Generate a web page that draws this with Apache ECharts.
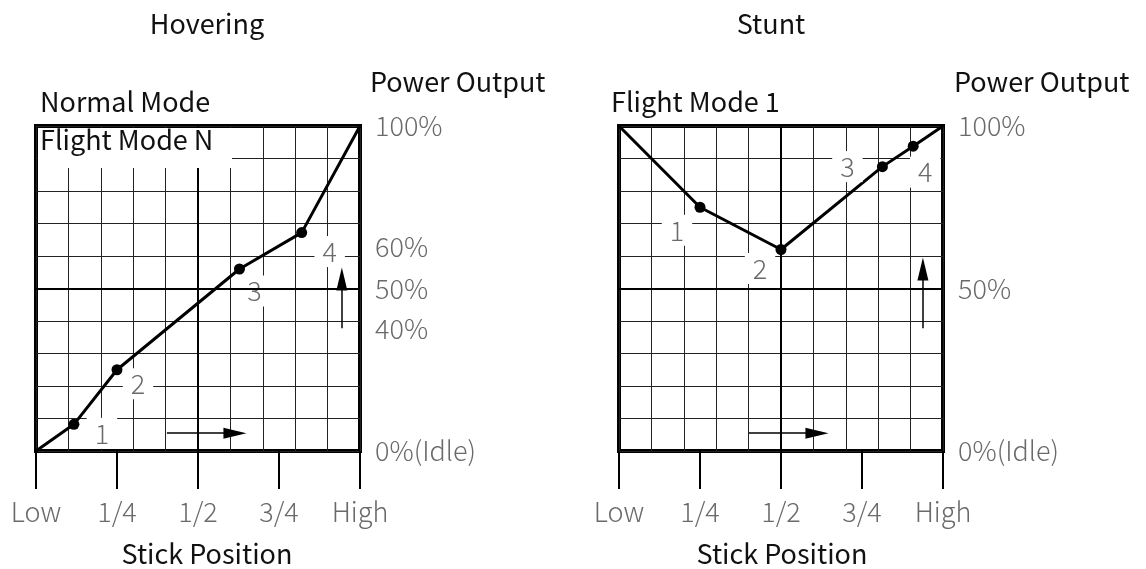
<!DOCTYPE html>
<html>
<head>
<meta charset="utf-8">
<script src="https://cdn.jsdelivr.net/npm/echarts@6/dist/echarts.min.js"></script>
<style>
  html, body { margin: 0; padding: 0; background: #fff; }
  #chart { width: 1146px; height: 569px; }
</style>
</head>
<body>
<div id="chart"></div>
<script>
// Stick position ticks shared by both panels
const stickValues = [0, 25, 50, 75, 100];
const stickTexts = ['Low', '1/4', '1/2', '3/4', 'High'];

// Hovering throttle curve (Normal Mode / Flight Mode N)
const hoverStick = [0, 11.7, 25, 62.8, 82, 100];
const hoverPower = [0, 8.2, 25, 56, 67.2, 100];
const hoverTags = ['', '1', '2', '3', '4', ''];
const hoverPowerTicks = [0, 40, 50, 60, 100];
const hoverPowerTexts = ['0%(Idle)', '40%', '50%', '60%', '100%'];

// Stunt throttle curve (Flight Mode 1)
const stuntStick = [0, 25, 50, 81.3, 90.8, 100];
const stuntPower = [100, 75, 62, 87.5, 93.8, 100];
const stuntTags = ['', '1', '2', '3', '4', ''];
const stuntPowerTicks = [0, 50, 100];
const stuntPowerTexts = ['0%(Idle)', '50%', '100%'];

// Direction arrows (start, head) in stick/power units
const hoverArrows = [[[40.4, 5.5], [61.4, 5.5]], [[94.4, 37.8], [94.4, 52.9]]];
const stuntArrows = [[[40.1, 5.5], [61.1, 5.5]], [[93.8, 37.8], [93.8, 56]]];

// Label placement for the numbered points, in pixels from each point
const hoverTagOffsets = [null, [28, 9], [21, 14], [15, 22], [28, 19], null];
const stuntTagOffsets = [null, [-23, 23], [-21, 19], [-35, 0], [12, 26], null];
// Power labels nudged apart so they do not collide
const hoverTextShift = { 60: 'up', 40: 'dn' };

const FONT = '"Noto Sans CJK JP", "Noto Sans", sans-serif';
const GREY = '#6a6a6a';

function pointData(xs, ys, tags, offsets) {
  return xs.map((x, i) => {
    const item = { value: [x, ys[i]], symbolSize: tags[i] ? 11 : 0 };
    if (tags[i]) {
      item.label = { show: true, formatter: tags[i], position: 'inside', offset: offsets[i] };
    }
    return item;
  });
}

function arrowData(arrows) {
  return arrows.map(a => [
    { coord: a[0], symbol: 'none' },
    { coord: a[1], symbol: 'triangle', symbolSize: [11, 23] }
  ]);
}

function curveSeries(gridIdx, xs, ys, tags, offsets, arrows) {
  return {
    type: 'line',
    xAxisIndex: gridIdx * 2,
    yAxisIndex: gridIdx,
    data: pointData(xs, ys, tags, offsets),
    symbol: 'circle',
    lineStyle: { color: '#000', width: 3 },
    itemStyle: { color: '#000' },
    label: {
      show: false,
      color: GREY,
      fontSize: 27,
      fontFamily: FONT,
      fontWeight: 300,
      backgroundColor: '#fff',
      padding: [2, 8]
    },
    z: 3,
    markLine: {
      silent: true,
      animation: false,
      symbol: ['none', 'none'],
      label: { show: false },
      lineStyle: { color: '#000', width: 2, type: 'solid' },
      data: [{ xAxis: 50 }, { yAxis: 50 }].concat(
        arrowData(arrows).map(pair => {
          pair[0].lineStyle = { width: 1.5, color: '#000', type: 'solid' };
          pair[1].lineStyle = { width: 1.5, color: '#000', type: 'solid' };
          return pair;
        })
      )
    }
  };
}

function gridXAxes(gridIdx) {
  return [
    {
      gridIndex: gridIdx, type: 'value', min: 0, max: 100, interval: 10,
      axisLine: { show: false }, axisTick: { show: false }, axisLabel: { show: false },
      splitLine: { show: true, lineStyle: { color: '#222', width: 1 } }
    },
    {
      gridIndex: gridIdx, type: 'value', min: 0, max: 100, interval: 25, position: 'bottom',
      axisLine: { show: false },
      axisTick: { show: true, inside: false, length: 38, lineStyle: { color: '#000', width: 2 } },
      splitLine: { show: false },
      axisLabel: {
        margin: 47, color: GREY, fontSize: 27, fontFamily: FONT, fontWeight: 300,
        showMinLabel: true, showMaxLabel: true,
        formatter: v => {
          const i = stickValues.indexOf(Math.round(v));
          return i < 0 ? '' : stickTexts[i];
        }
      }
    }
  ];
}

function powerAxis(gridIdx, ticks, texts, shift) {
  return {
    gridIndex: gridIdx, type: 'value', min: 0, max: 100, interval: 10, position: 'right',
    axisLine: { show: false }, axisTick: { show: false },
    splitLine: { show: true, lineStyle: { color: '#222', width: 1 } },
    axisLabel: {
      margin: 15, color: GREY, fontSize: 27, fontFamily: FONT, fontWeight: 300,
      showMinLabel: true, showMaxLabel: true,
      formatter: v => {
        const r = Math.round(v);
        const i = ticks.indexOf(r);
        if (i < 0) return '';
        const s = shift && shift[r];
        return s ? '{' + s + '|' + texts[i] + '}' : texts[i];
      },
      rich: {
        up: { color: GREY, fontSize: 27, fontFamily: FONT, fontWeight: 300, padding: [0, 0, 18, 0] },
        dn: { color: GREY, fontSize: 27, fontFamily: FONT, fontWeight: 300, padding: [16, 0, 0, 0] }
      }
    }
  };
}

function txt(text, x, y, align, extra) {
  return Object.assign({
    type: 'text', x: x, y: y, z: 100,
    style: {
      text: text, fill: '#111', fontSize: 27, fontFamily: FONT,
      align: align, verticalAlign: 'middle'
    }
  }, extra || {});
}

const chart = echarts.init(document.getElementById('chart'), null, { renderer: 'canvas' });

chart.setOption({
  animation: false,
  backgroundColor: '#fff',
  grid: [
    { left: 36, top: 126, width: 324, height: 325, show: true, borderColor: '#000', borderWidth: 4 },
    { left: 619, top: 126, width: 324, height: 325, show: true, borderColor: '#000', borderWidth: 4 }
  ],
  xAxis: gridXAxes(0).concat(gridXAxes(1)),
  yAxis: [
    powerAxis(0, hoverPowerTicks, hoverPowerTexts, hoverTextShift),
    powerAxis(1, stuntPowerTicks, stuntPowerTexts, null)
  ],
  series: [
    curveSeries(0, hoverStick, hoverPower, hoverTags, hoverTagOffsets, hoverArrows),
    curveSeries(1, stuntStick, stuntPower, stuntTags, stuntTagOffsets, stuntArrows)
  ],
  graphic: [
    txt('Hovering', 207, 24, 'center'),
    txt('Stunt', 771, 24, 'center'),
    txt('Normal Mode', 40, 102, 'left'),
    txt('Flight Mode 1', 611, 102, 'left'),
    txt('Power Output', 370, 82, 'left'),
    txt('Power Output', 954, 82, 'left'),
    txt('Stick Position', 207, 554, 'center'),
    txt('Stick Position', 782, 554, 'center'),
    { type: 'rect', z: 99, shape: { x: 38, y: 128, width: 194, height: 40 }, style: { fill: '#fff' } },
    txt('Flight Mode N', 40, 140, 'left')
  ]
});
</script>
</body>
</html>
